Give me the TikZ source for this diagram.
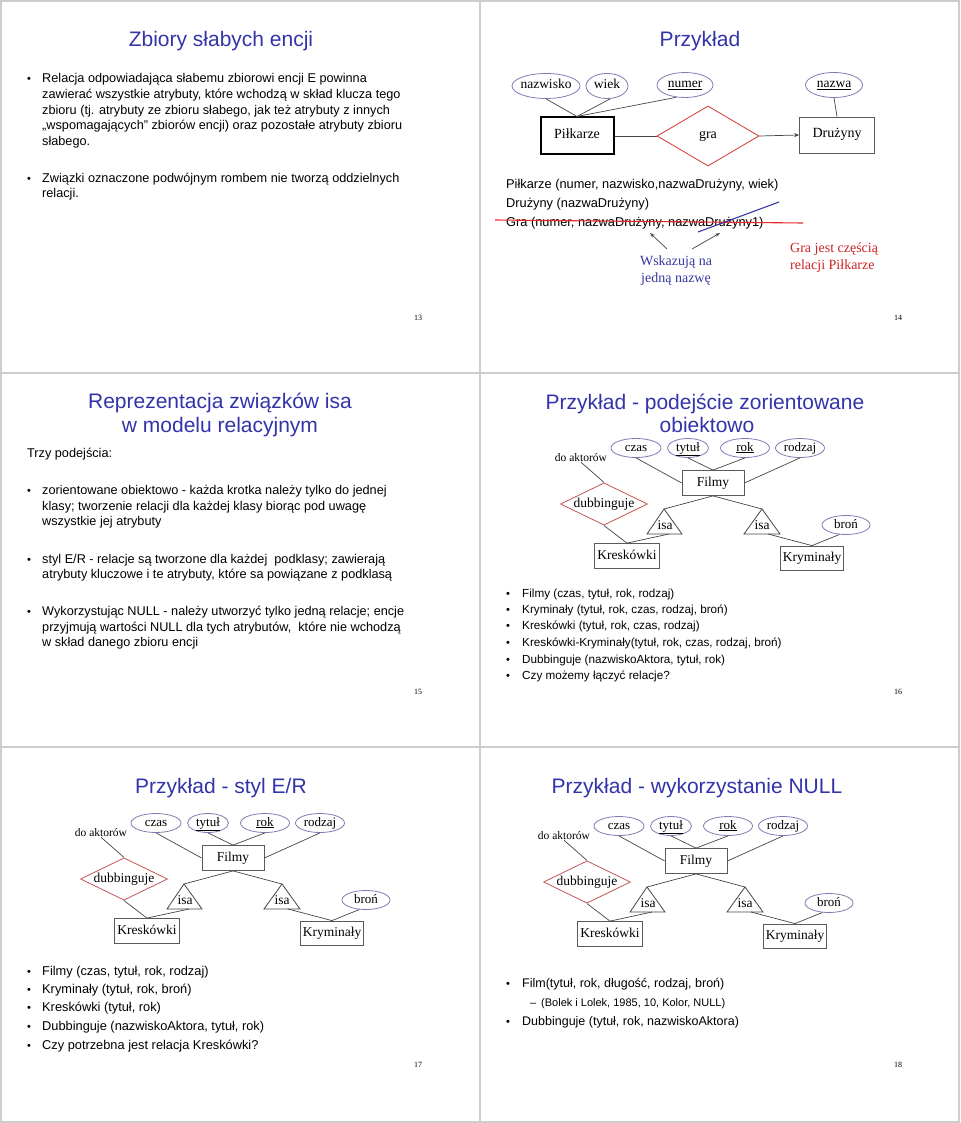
\documentclass[tikz,border=0pt]{standalone}
\usepackage{fontspec}
\setmainfont{Liberation Serif}
\setsansfont{Liberation Sans}
\usetikzlibrary{shapes.geometric,arrows.meta}
\definecolor{titleblue}{RGB}{51,51,170}
\definecolor{attrc}{RGB}{125,125,180}
\definecolor{relc}{RGB}{195,85,85}
\definecolor{relred}{RGB}{215,55,55}
\definecolor{boxc}{RGB}{90,90,90}
\definecolor{linec}{RGB}{70,70,70}
\definecolor{framec}{RGB}{205,205,205}
\definecolor{annblue}{RGB}{55,55,160}
\definecolor{annred}{RGB}{205,35,35}
\definecolor{strikered}{RGB}{235,40,40}
\newcommand\fsz[1]{\fontsize{#1}{#1}\selectfont}
\newcommand\filmdiag{%
  \node[ent, minimum width=62, minimum height=25] (filmy) at (0,0) {Filmy};
  \node[attr, minimum width=50] (czas) at (-77,-35) {czas};
  \node[attr, minimum width=41] (tytul) at (-25,-35) {\underline{tytuł}};
  \node[attr, minimum width=49] (rok) at (32,-35) {\underline{rok}};
  \node[attr, minimum width=49] (rodzaj) at (87,-35) {rodzaj};
  \node[smalltxt] (doakt) at (-132,-25) {do aktorów};
  \node[rel, minimum width=87, minimum height=42] (dub) at (-109,21) {dubbinguje};
  \coordinate (aL) at (-49,26); \coordinate (bL1) at (-66,51); \coordinate (bL2) at (-31,51); \coordinate (cL) at (-44,51);
  \coordinate (aR) at (49,26); \coordinate (bR1) at (31,51); \coordinate (bR2) at (67,51); \coordinate (cR) at (55,51);
  \draw[isatri] (aL) -- (bL1) -- (bL2) -- cycle;
  \draw[isatri] (aR) -- (bR1) -- (bR2) -- cycle;
  \node[lab] (isaL) at (-48,43) {isa};
  \node[lab] (isaR) at (49,43) {isa};
  \node[attr, minimum width=48, minimum height=19] (bron) at (133,42) {broń};
  \node[ent, minimum width=65, minimum height=25] (kres) at (-86,73) {Kreskówki};
  \node[ent, minimum width=63, minimum height=24] (krym) at (99,75) {Kryminały};
  \draw[conn] (czas.south) -- (filmy.west);
  \draw[conn] (tytul.south) -- (filmy.north);
  \draw[conn] (rok.south) -- (filmy.north);
  \draw[conn] (rodzaj.south) -- (filmy.east);
  \draw[conn] (filmy.south) -- (aL);
  \draw[conn] (filmy.south) -- (aR);
  \draw[conn] (kres.north) -- (cL);
  \draw[conn] (krym.north) -- (cR);
  \draw[conn] (bron.235) -- (krym.north);
  \draw[conn] (doakt.south) -- (dub.north);
  \draw[conn] (dub.south) -- (kres.north);
}
\begin{document}
\begin{tikzpicture}[x=1pt,y=-1pt,
  title/.style={font=\sffamily\fsz{21}, text=titleblue, anchor=base, inner sep=0pt},
  body/.style={font=\sffamily\fsz{12.7}, anchor=base west, inner sep=0pt},
  bul/.style={font=\sffamily\fsz{11}, anchor=base, inner sep=0pt},
  pnum/.style={font=\fsz{8}, inner sep=0pt},
  ent/.style={draw=boxc, line width=0.8pt, rectangle, inner sep=0pt, font=\fsz{13.5}, text height=9pt, text depth=3pt},
  attr/.style={draw=attrc, line width=0.8pt, ellipse, inner sep=0pt, minimum height=19pt, font=\fsz{13}, text height=9pt, text depth=3pt},
  rel/.style={draw=relc, line width=0.8pt, diamond, aspect=2, inner sep=0pt, font=\fsz{13.5}, text height=9pt, text depth=3pt},
  isatri/.style={draw=linec, line width=0.8pt},
  lab/.style={inner sep=0pt, font=\fsz{13.5}, text height=9pt, text depth=3pt},
  smalltxt/.style={inner sep=0pt, font=\fsz{11.5}},
  conn/.style={draw=linec, line width=0.7pt},
  slideframe/.style={draw=framec, line width=2pt}]
\useasboundingbox (0,0) rectangle (960,1123);
\fill[white] (0,0) rectangle (960,1123);
% frames
\draw[slideframe] (1,1) rectangle (959,1122);
\draw[slideframe] (480,0) -- (480,1123);
\draw[slideframe] (0,373) -- (960,373);
\draw[slideframe] (0,747) -- (960,747);

% ===== Slide 13 =====
\node[title] (t13) at (221,47) {Zbiory słabych encji};
\node[bul] (b13a) at (29,83) {•};
\node[body] (l13a) at (42,83) {Relacja odpowiadająca słabemu zbiorowi encji E powinna};
\node[body] (l13b) at (42,99) {zawierać wszystkie atrybuty, które wchodzą w skład klucza tego};
\node[body] (l13c) at (42,115) {zbioru (tj. atrybuty ze zbioru słabego, jak też atrybuty z innych};
\node[body] (l13d) at (42,130) {„wspomagających” zbiorów encji) oraz pozostałe atrybuty zbioru};
\node[body] (l13e) at (42,146) {słabego.};
\node[bul] (b13b) at (29,183) {•};
\node[body] (l13f) at (42,183) {Związki oznaczone podwójnym rombem nie tworzą oddzielnych};
\node[body] (l13g) at (42,198) {relacji.};
\node[pnum] (n13) at (418,318) {13};

% ===== Slide 14 =====
\node[title] (t14) at (700,47) {Przykład};
\node[attr, minimum width=68, minimum height=25, font=\fsz{13.5}, inner xsep=-3pt] (nazwisko) at (546,86) {nazwisko};
\node[attr, minimum width=42, minimum height=25, font=\fsz{13.5}] (wiek) at (607,86) {wiek};
\node[attr, minimum width=56, minimum height=25, font=\fsz{13.5}] (numer) at (685,85) {\underline{numer}};
\node[attr, minimum width=57, minimum height=25, font=\fsz{13.5}] (nazwa) at (834,85) {\underline{nazwa}};
\node[ent, draw=black, line width=2pt, minimum width=73, minimum height=37, font=\fsz{14}] (pilk) at (577,136) {Piłkarze};
\node[rel, draw=relred, minimum width=102, minimum height=60, font=\fsz{14}] (gra) at (708,136) {gra};
\node[ent, minimum width=75, minimum height=36, font=\fsz{14}] (druz) at (837,135) {Drużyny};
\draw[conn] (nazwisko.south) -- (pilk.north);
\draw[conn] (wiek.-75) -- (pilk.north);
\draw[conn] (numer.235) -- (pilk.north);
\draw[conn] (pilk.east) -- (gra.west);
\draw[conn, -{Stealth[length=5pt,width=4pt]}] (gra.east) -- (druz.west);
\draw[conn] (nazwa.south) -- (druz.north);
\node[body, font=\sffamily\fsz{12.8}] (r1) at (506,188.5) {Piłkarze (numer, nazwisko,nazwaDrużyny, wiek)};
\node[body, font=\sffamily\fsz{12.8}] (r2) at (506,207.5) {Drużyny (nazwaDrużyny)};
\node[body, font=\sffamily\fsz{12.8}] (r3) at (506,226.5) {Gra (numer, nazwaDrużyny, nazwaDrużyny1)};
\coordinate (s1) at (495,220); \coordinate (s2) at (803,223);
\draw[strikered, line width=1.1pt] (s1) -- (s2);
\coordinate (u1) at (698,232); \coordinate (u2) at (779,202);
\draw[annblue, line width=1.1pt] (u1) -- (u2);
\node[lab, font=\fsz{14}, text=annblue] (wsk1) at (676,262) {Wskazują na};
\node[lab, font=\fsz{14}, text=annblue] (wsk2) at (676,279) {jedną nazwę};
\node[lab, font=\fsz{14}, text=annred, anchor=west] (gj1) at (790,249) {Gra jest częścią};
\node[lab, font=\fsz{14}, text=annred, anchor=west] (gj2) at (790,266) {relacji Piłkarze};
\coordinate (p1s) at (667,249); \coordinate (p1e) at (650,233);
\coordinate (p2s) at (692,249); \coordinate (p2e) at (720,233);
\draw[conn, -{Stealth[length=5pt,width=3.5pt]}] (p1s) -- (p1e);
\draw[conn, -{Stealth[length=5pt,width=3.5pt]}] (p2s) -- (p2e);
\node[pnum] (n14) at (898,318) {14};

% ===== Slide 15 =====
\node[title] (t15a) at (220,408) {Reprezentacja związków isa};
\node[title] (t15b) at (220,432) {w modelu relacyjnym};
\node[body] (l15a) at (27,457.5) {Trzy podejścia:};
\node[bul] (b15a) at (29,494.5) {•};
\node[body] (l15b) at (42,494.5) {zorientowane obiektowo - każda krotka należy tylko do jednej};
\node[body] (l15c) at (42,510.5) {klasy; tworzenie relacji dla każdej klasy biorąc pod uwagę};
\node[body] (l15d) at (42,525.5) {wszystkie jej atrybuty};
\node[bul] (b15b) at (29,563) {•};
\node[body] (l15e) at (42,563) {styl E/R - relacje są tworzone dla każdej\ \ podklasy; zawierają};
\node[body] (l15f) at (42,578) {atrybuty kluczowe i te atrybuty, które sa powiązane z podklasą};
\node[bul] (b15c) at (29,615) {•};
\node[body] (l15g) at (42,615) {Wykorzystując NULL - należy utworzyć tylko jedną relacje; encje};
\node[body] (l15h) at (42,631) {przyjmują wartości NULL dla tych atrybutów,\ \ które nie wchodzą};
\node[body] (l15i) at (42,646) {w skład danego zbioru encji};
\node[pnum] (n15) at (418,692) {15};

% ===== Slide 16 =====
\node[title] (t16a) at (705,409) {Przykład - podejście zorientowane};
\node[title] (t16b) at (707,432) {obiektowo};
\begin{scope}[shift={(713,483)}, name prefix=s16-]
\filmdiag
\end{scope}
\node[bul] (b16a) at (508,597) {•};
\node[body, font=\sffamily\fsz{11.7}] (l16a) at (522,597) {Filmy (czas, tytuł, rok, rodzaj)};
\node[bul] (b16b) at (508,613) {•};
\node[body, font=\sffamily\fsz{11.7}] (l16b) at (522,613) {Kryminały (tytuł, rok, czas, rodzaj, broń)};
\node[bul] (b16c) at (508,629) {•};
\node[body, font=\sffamily\fsz{11.7}] (l16c) at (522,629) {Kreskówki (tytuł, rok, czas, rodzaj)};
\node[bul] (b16d) at (508,646) {•};
\node[body, font=\sffamily\fsz{11.7}] (l16d) at (522,646) {Kreskówki-Kryminały(tytuł, rok, czas, rodzaj, broń)};
\node[bul] (b16e) at (508,663) {•};
\node[body, font=\sffamily\fsz{11.7}] (l16e) at (522,663) {Dubbinguje (nazwiskoAktora, tytuł, rok)};
\node[bul] (b16f) at (508,679) {•};
\node[body, font=\sffamily\fsz{11.7}] (l16f) at (522,679) {Czy możemy łączyć relacje?};
\node[pnum] (n16) at (898,692) {16};

% ===== Slide 17 =====
\node[title] (t17) at (221,793) {Przykład - styl E/R};
\begin{scope}[shift={(233,858)}, name prefix=s17-]
\filmdiag
\end{scope}
\node[bul] (b17a) at (29,975) {•};
\node[body, font=\sffamily\fsz{12.8}] (l17a) at (42,975) {Filmy (czas, tytuł, rok, rodzaj)};
\node[bul] (b17b) at (29,993) {•};
\node[body, font=\sffamily\fsz{12.8}] (l17b) at (42,993) {Kryminały (tytuł, rok, broń)};
\node[bul] (b17c) at (29,1011) {•};
\node[body, font=\sffamily\fsz{12.8}] (l17c) at (42,1011) {Kreskówki (tytuł, rok)};
\node[bul] (b17d) at (29,1030) {•};
\node[body, font=\sffamily\fsz{12.8}] (l17d) at (42,1030) {Dubbinguje (nazwiskoAktora, tytuł, rok)};
\node[bul] (b17e) at (29,1049) {•};
\node[body, font=\sffamily\fsz{12.8}] (l17e) at (42,1049) {Czy potrzebna jest relacja Kreskówki?};
\node[pnum] (n17) at (418,1065) {17};

% ===== Slide 18 =====
\node[title] (t18) at (697,793) {Przykład - wykorzystanie NULL};
\begin{scope}[shift={(696,861)}, name prefix=s18-]
\filmdiag
\end{scope}
\node[bul] (b18a) at (508,987.5) {•};
\node[body, font=\sffamily\fsz{12.5}] (l18a) at (522,987.5) {Film(tytuł, rok, długość, rodzaj, broń)};
\node[body, font=\sffamily\fsz{11}] (d18) at (530,1006) {–};
\node[body, font=\sffamily\fsz{11}] (l18b) at (541,1006) {(Bolek i Lolek, 1985, 10, Kolor, NULL)};
\node[bul] (b18b) at (508,1025.5) {•};
\node[body, font=\sffamily\fsz{12.5}] (l18c) at (522,1025.5) {Dubbinguje (tytuł, rok, nazwiskoAktora)};
\node[pnum] (n18) at (898,1065) {18};
\end{tikzpicture}
\end{document}
